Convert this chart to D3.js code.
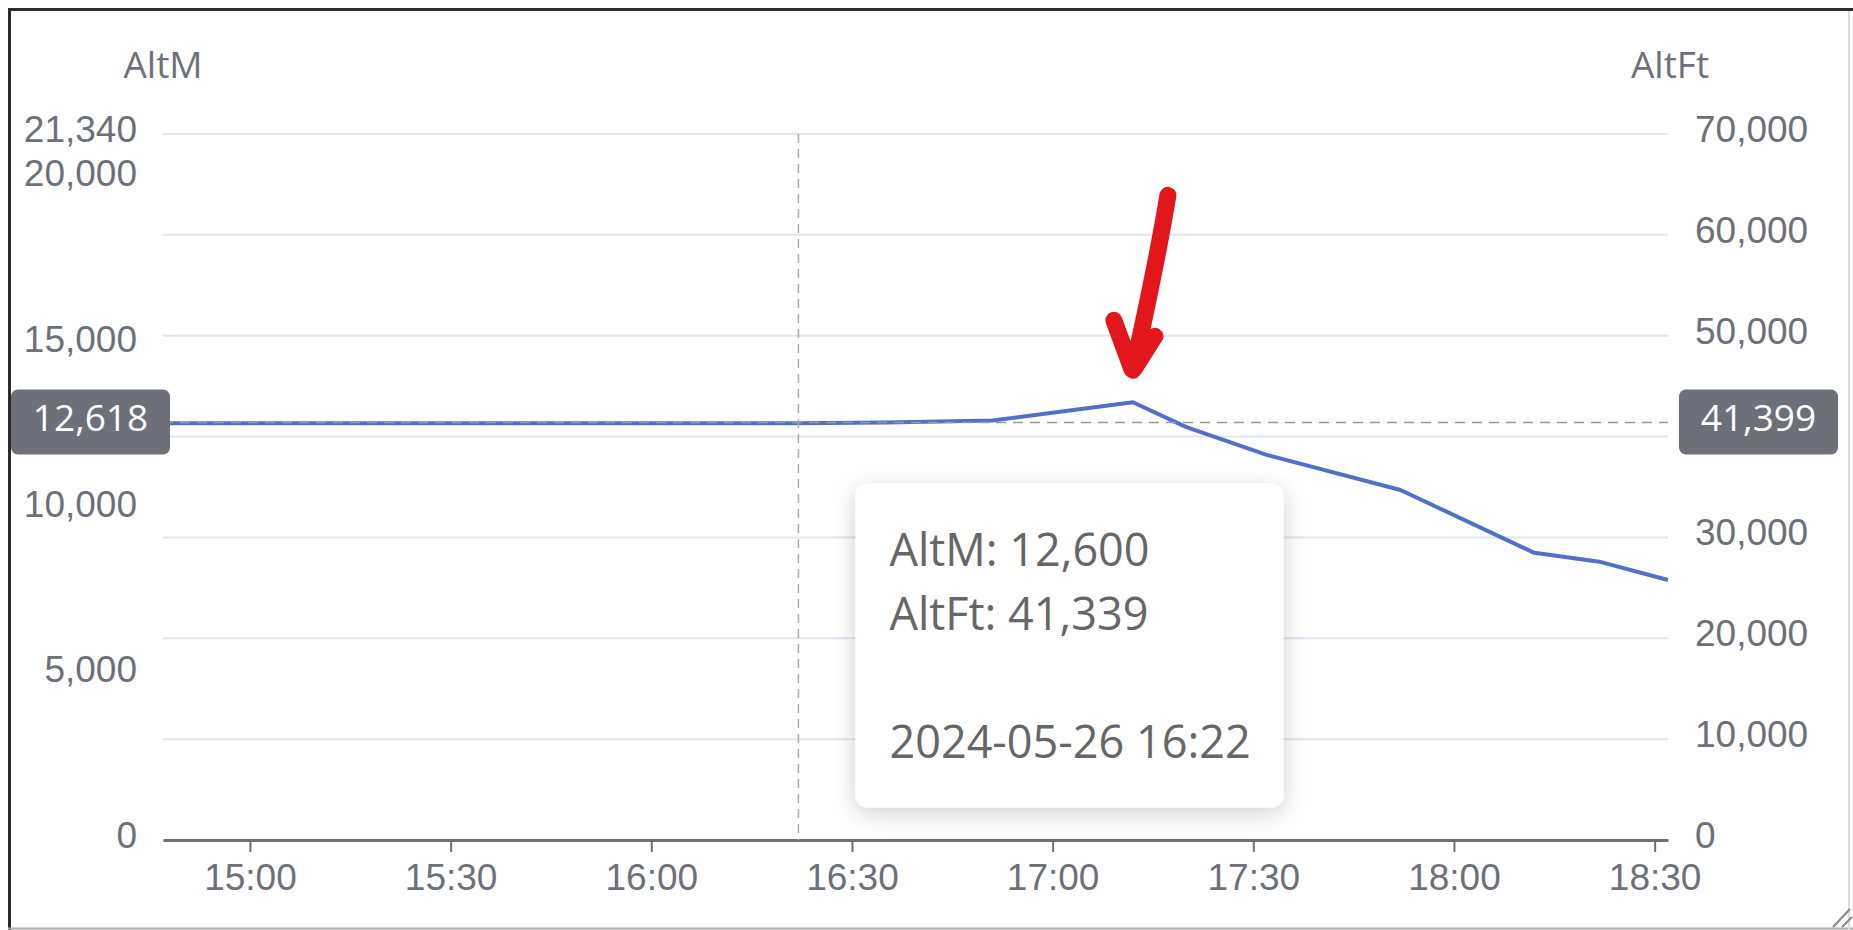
<!DOCTYPE html>
<html>
<head>
<meta charset="utf-8">
<script src="https://cdn.jsdelivr.net/npm/d3@7"></script>
<style>
  body { margin: 0; background: #fff; }
  svg { display: block; font-family: "Open Sans", "Noto Sans", sans-serif; }
</style>
</head>
<body>
<div id="chart"></div>
<script>
// Flight altitude (metres) by time
const day = "2024-05-26";
const times = ["14:47", "15:10", "15:40", "16:05", "16:22", "16:35", "16:51", "17:12",
               "17:20", "17:32", "17:52", "18:12", "18:22", "18:32"];
const altM = [12600, 12600, 12600, 12600, 12600, 12620, 12680, 13230,
              12480, 11640, 10580, 8680, 8400, 7860];

// Axis ticks
const mTicks = [0, 5000, 10000, 15000, 20000, 21340];
const ftTicks = [0, 10000, 20000, 30000, 40000, 50000, 60000, 70000];

// Hovered point (crosshair + tooltip)
const cursorTime = "16:22";
const cursorM = 12618;
const cursorFt = 41399;
const tipLines = ["AltM: 12,600", "AltFt: 41,339", "", "2024-05-26 16:22"];

const W = 1853, H = 930;
const margin = { top: 134, right: 185, bottom: 90, left: 163 };
const width = W - margin.left - margin.right,
      height = H - margin.top - margin.bottom;

const parse = d3.timeParse("%Y-%m-%d %H:%M");
const data = times.map((t, i) => ({ t: parse(day + " " + t), m: altM[i] }));

const svg = d3.select("#chart").append("svg")
    .attr("width", W)
    .attr("height", H);

// Window frame
svg.append("line").attr("x1", 8).attr("x2", W).attr("y1", 9.5).attr("y2", 9.5)
    .attr("stroke", "#2b2b2b").attr("stroke-width", 3);
svg.append("line").attr("x1", 9.5).attr("x2", 9.5).attr("y1", 8).attr("y2", H)
    .attr("stroke", "#2b2b2b").attr("stroke-width", 3);
svg.append("line").attr("x1", 8).attr("x2", W).attr("y1", 928.5).attr("y2", 928.5)
    .attr("stroke", "#aaa").attr("stroke-width", 2);
svg.append("line").attr("x1", 1849).attr("x2", 1849).attr("y1", 11).attr("y2", H)
    .attr("stroke", "#ddd").attr("stroke-width", 2);
svg.append("path").attr("d", "M1850,909L1833,927M1852,917L1842,927")
    .attr("stroke", "#888").attr("stroke-width", 2);

const defs = svg.append("defs");
const shadow = defs.append("filter").attr("id", "shadow")
    .attr("x", "-20%").attr("y", "-20%").attr("width", "140%").attr("height", "150%");
shadow.append("feDropShadow").attr("dx", 0).attr("dy", 6).attr("stdDeviation", 12)
    .attr("flood-color", "#000").attr("flood-opacity", 0.18);

const g = svg.append("g")
    .attr("transform", `translate(${margin.left},${margin.top})`);

// Scales
const x = d3.scaleTime()
    .domain(d3.extent(data, d => d.t))
    .range([0, width]);

const yM = d3.scaleLinear().domain([0, 21340]).range([height, 0]);
const yFt = d3.scaleLinear().domain([0, 70000]).range([height, 0]);

const fmt = d3.format(",");
const labelColor = "#6E7079";

const cx = x(parse(day + " " + cursorTime));
const cy = yM(cursorM);

// Grid lines (from the feet axis)
g.selectAll(".grid")
    .data(ftTicks)
    .enter()
    .append("line")
    .attr("x1", 0).attr("x2", width)
    .attr("y1", d => yFt(d)).attr("y2", d => yFt(d))
    .attr("stroke", "#E0E6F1")
    .attr("stroke-width", 2);

// Left axis (metres)
const leftAxis = g.append("g")
    .call(d3.axisLeft(yM).tickValues(mTicks).tickFormat(fmt).tickSize(0).tickPadding(26));
leftAxis.select(".domain").remove();
leftAxis.selectAll("text")
    .attr("dy", "0.2em")
    .attr("fill", labelColor)
    .style("font-size", "37px");

// Right axis (feet); the label under the pointer box is hidden
const rightAxis = g.append("g")
    .attr("transform", `translate(${width},0)`)
    .call(d3.axisRight(yFt).tickValues(ftTicks).tickFormat(fmt).tickSize(0).tickPadding(27));
rightAxis.select(".domain").remove();
rightAxis.selectAll("text")
    .attr("dy", "0.2em")
    .attr("fill", labelColor)
    .style("font-size", "37px");
rightAxis.selectAll(".tick")
    .filter(d => Math.abs(yFt(d) - cy) < 45)
    .remove();

// Axis names
g.append("text").attr("x", 0).attr("y", -56).attr("text-anchor", "middle")
    .attr("fill", labelColor).style("font-size", "37px").text("AltM");
g.append("text").attr("x", width + 2).attr("y", -56).attr("text-anchor", "middle")
    .attr("fill", labelColor).style("font-size", "37px").text("AltFt");

// X axis
const xAxis = g.append("g")
    .attr("transform", `translate(0,${height})`)
    .call(d3.axisBottom(x)
        .ticks(d3.timeMinute.every(30))
        .tickFormat(d3.timeFormat("%H:%M"))
        .tickSizeInner(12).tickSizeOuter(0).tickPadding(12));
xAxis.select(".domain").attr("stroke", labelColor).attr("stroke-width", 3);
xAxis.selectAll(".tick line").attr("stroke", labelColor).attr("stroke-width", 2);
xAxis.selectAll("text").attr("fill", labelColor).style("font-size", "37px");

// Altitude line
g.append("path")
    .datum(data)
    .attr("fill", "none")
    .attr("stroke", "#5470c6")
    .attr("stroke-width", 4)
    .attr("stroke-linejoin", "round")
    .attr("d", d3.line().x(d => x(d.t)).y(d => yM(d.m)));

// Crosshair
g.append("line").attr("x1", cx).attr("x2", cx).attr("y1", 0).attr("y2", height)
    .attr("stroke", "#aaa").attr("stroke-width", 1.5).attr("stroke-dasharray", "9,6");
g.append("line").attr("x1", 0).attr("x2", width).attr("y1", cy).attr("y2", cy)
    .attr("stroke", "#999").attr("stroke-width", 1.5).attr("stroke-dasharray", "10,7");

// Crosshair labels
const pointerLabels = [
    { x0: -152, text: fmt(cursorM) },
    { x0: width + 11, text: fmt(cursorFt) }
];
pointerLabels.forEach(p => {
    g.append("rect")
        .attr("x", p.x0).attr("y", cy - 33)
        .attr("width", 159).attr("height", 65)
        .attr("rx", 7)
        .attr("fill", "#6E7079");
    g.append("text")
        .attr("x", p.x0 + 79.5).attr("y", cy + 8)
        .attr("text-anchor", "middle")
        .attr("fill", "#fff")
        .style("font-size", "37px")
        .text(p.text);
});

// Tooltip
const tip = g.append("g").attr("transform", `translate(${cx + 57},${cy + 61})`);
tip.append("rect")
    .attr("width", 428).attr("height", 324)
    .attr("rx", 12)
    .attr("fill", "#fff")
    .attr("filter", "url(#shadow)");
tip.selectAll("text.line")
    .data(tipLines)
    .enter()
    .append("text")
    .attr("class", "line")
    .attr("x", 34)
    .attr("y", (d, i) => 82 + i * 64)
    .attr("fill", "#666")
    .style("font-size", "45px")
    .text(d => d);

// Hand-drawn red arrow pointing at the peak
const peak = data.reduce((a, b) => (b.m > a.m ? b : a));
const px = x(peak.t), py = yM(peak.m);
g.append("path")
    .attr("d", `M${px + 35},${py - 207} Q${px + 24},${py - 140} ${px},${py - 32}` +
               `M${px - 19},${py - 82} L${px - 1},${py - 33}` +
               `M${px + 22},${py - 66} L${px + 1},${py - 33}`)
    .attr("fill", "none")
    .attr("stroke", "#e3161b")
    .attr("stroke-width", 17)
    .attr("stroke-linecap", "round")
    .attr("stroke-linejoin", "round");
</script>
</body>
</html>
